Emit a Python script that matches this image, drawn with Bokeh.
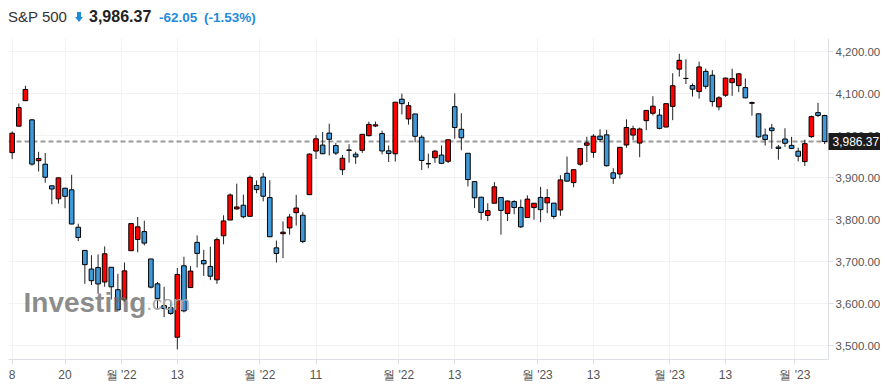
from bokeh.plotting import figure
from bokeh.layouts import column
from bokeh.models import (Range1d, FixedTicker, NumeralTickFormatter, Span, Label, Div,
                          BoxAnnotation)
from bokeh.embed import file_html
from bokeh.resources import INLINE

# ---- data (S&P 500 daily candles) ----
dates = [
    "2022-09-08", "2022-09-09", "2022-09-12", "2022-09-13", "2022-09-14", "2022-09-15", "2022-09-16",
    "2022-09-19", "2022-09-20", "2022-09-21", "2022-09-22", "2022-09-23", "2022-09-26", "2022-09-27",
    "2022-09-28", "2022-09-29", "2022-09-30",
    "2022-10-03", "2022-10-04", "2022-10-05", "2022-10-06", "2022-10-07", "2022-10-10", "2022-10-11",
    "2022-10-12", "2022-10-13", "2022-10-14", "2022-10-17", "2022-10-18", "2022-10-19", "2022-10-20",
    "2022-10-21", "2022-10-24", "2022-10-25", "2022-10-26", "2022-10-27", "2022-10-28", "2022-10-31",
    "2022-11-01", "2022-11-02", "2022-11-03", "2022-11-04", "2022-11-07", "2022-11-08", "2022-11-09",
    "2022-11-10", "2022-11-11", "2022-11-14", "2022-11-15", "2022-11-16", "2022-11-17", "2022-11-18",
    "2022-11-21", "2022-11-22", "2022-11-23", "2022-11-25", "2022-11-28", "2022-11-29", "2022-11-30",
    "2022-12-01", "2022-12-02", "2022-12-05", "2022-12-06", "2022-12-07", "2022-12-08", "2022-12-09",
    "2022-12-12", "2022-12-13", "2022-12-14", "2022-12-15", "2022-12-16", "2022-12-19", "2022-12-20",
    "2022-12-21", "2022-12-22", "2022-12-23", "2022-12-27", "2022-12-28", "2022-12-29", "2022-12-30",
    "2023-01-03", "2023-01-04", "2023-01-05", "2023-01-06", "2023-01-09", "2023-01-10", "2023-01-11",
    "2023-01-12", "2023-01-13", "2023-01-17", "2023-01-18", "2023-01-19", "2023-01-20", "2023-01-23",
    "2023-01-24", "2023-01-25", "2023-01-26", "2023-01-27", "2023-01-30", "2023-01-31",
    "2023-02-01", "2023-02-02", "2023-02-03", "2023-02-06", "2023-02-07", "2023-02-08", "2023-02-09",
    "2023-02-10", "2023-02-13", "2023-02-14", "2023-02-15", "2023-02-16", "2023-02-17", "2023-02-21",
    "2023-02-22", "2023-02-23", "2023-02-24", "2023-02-27", "2023-02-28",
    "2023-03-01", "2023-03-02", "2023-03-03", "2023-03-06", "2023-03-07",
]

opens = [
    3959.94, 4022.94, 4083.67, 4038.00, 3940.73, 3932.41, 3880.95, 3849.91, 3875.23, 3871.40,
    3782.36, 3727.14, 3682.72, 3686.44, 3651.94, 3687.01, 3633.48,
    3609.78, 3726.46, 3753.25, 3771.97, 3706.74, 3647.51, 3595.86, 3590.83, 3520.37, 3690.41,
    3638.65, 3746.26, 3703.11, 3689.05, 3657.10, 3762.01, 3799.44, 3825.97, 3834.69, 3808.26, 3881.85,
    3901.79, 3852.90, 3733.25, 3766.98, 3780.71, 3817.02, 3810.94, 3859.89, 3963.72, 3977.97,
    4006.41, 3976.82, 3919.26, 3966.39, 3956.23, 3965.51, 4000.30, 4023.34, 4005.36, 3964.19, 3957.18,
    4087.14, 4040.17, 4052.02, 3996.63, 3933.28, 3947.79, 3954.17, 3939.29, 4069.38, 4015.54,
    3958.37, 3890.91, 3853.79, 3810.47, 3839.49, 3853.26, 3815.11, 3843.34, 3829.56, 3805.45, 3829.06,
    3853.29, 3840.36, 3839.74, 3823.37, 3910.82, 3888.57, 3932.35, 3977.57, 3960.60, 3999.28,
    4002.25, 3911.84, 3909.04, 3978.14, 4001.74, 3982.71, 4036.08, 4053.72, 4049.27, 4020.85,
    4070.07, 4158.68, 4136.69, 4119.57, 4105.35, 4153.47, 4144.25, 4068.92, 4096.62, 4126.70,
    4119.50, 4114.75, 4077.39, 4052.35, 4001.83, 4018.60, 3973.24, 3992.36, 3977.19,
    3963.34, 3938.68, 3998.02, 4055.15, 4048.26,
]

highs = [
    4010.50, 4076.81, 4119.28, 4040.00, 3961.94, 3959.14, 3880.95, 3900.45, 3876.01, 3907.07,
    3790.68, 3727.14, 3715.67, 3717.53, 3736.74, 3687.01, 3671.44,
    3698.35, 3791.92, 3806.91, 3797.93, 3706.74, 3652.17, 3640.66, 3608.34, 3685.41, 3712.00,
    3689.73, 3762.79, 3728.58, 3736.00, 3757.89, 3810.74, 3862.85, 3886.15, 3859.95, 3905.42, 3893.73,
    3911.79, 3894.44, 3750.59, 3796.34, 3813.95, 3859.40, 3818.20, 3958.33, 4001.48, 4008.97,
    4028.84, 3983.09, 3954.33, 3979.89, 3962.00, 4003.46, 4033.78, 4034.02, 4012.27, 3976.77, 4080.11,
    4100.51, 4080.48, 4052.45, 4001.51, 3957.57, 3966.34, 3977.02, 3990.71, 4100.96, 4053.76,
    3958.37, 3890.91, 3854.86, 3839.49, 3889.82, 3853.26, 3845.80, 3846.65, 3848.32, 3858.19, 3839.85,
    3878.46, 3873.16, 3839.74, 3906.19, 3950.57, 3919.83, 3970.07, 3997.76, 4003.95, 4015.39,
    4014.16, 3922.94, 3972.96, 4039.31, 4023.92, 4019.55, 4061.57, 4094.38, 4063.85, 4077.16,
    4148.95, 4195.44, 4182.36, 4124.63, 4176.54, 4160.03, 4156.23, 4094.36, 4138.90, 4159.77,
    4148.11, 4136.54, 4081.51, 4052.35, 4017.37, 4028.30, 3978.25, 4018.05, 3997.50,
    3971.73, 3990.84, 4048.29, 4078.49, 4050.00,
]

lows = [
    3944.81, 4022.94, 4083.67, 3928.86, 3915.00, 3888.28, 3837.08, 3838.50, 3827.54, 3789.49,
    3749.45, 3647.47, 3644.76, 3623.76, 3640.61, 3610.40, 3584.13,
    3604.93, 3726.46, 3722.66, 3739.22, 3636.66, 3588.10, 3568.45, 3573.86, 3491.58, 3579.68,
    3638.65, 3686.53, 3666.51, 3656.44, 3647.42, 3741.65, 3799.44, 3824.07, 3803.79, 3808.26, 3863.18,
    3843.80, 3758.68, 3698.15, 3708.84, 3764.70, 3786.28, 3744.22, 3859.89, 3944.82, 3956.40,
    3953.17, 3954.34, 3906.54, 3935.98, 3933.34, 3959.39, 3998.66, 4020.76, 3955.77, 3937.65, 3938.58,
    4050.87, 4026.63, 3984.49, 3918.39, 3922.68, 3935.83, 3933.04, 3935.30, 3993.03, 3965.65,
    3879.45, 3827.91, 3800.04, 3797.01, 3839.49, 3764.49, 3797.01, 3813.22, 3780.78, 3805.45, 3800.34,
    3794.33, 3815.77, 3802.42, 3809.56, 3890.42, 3877.29, 3928.54, 3937.56, 3947.67, 3984.57,
    3926.59, 3885.54, 3897.86, 3971.64, 3989.79, 3949.06, 4013.29, 4048.70, 4015.55, 4020.44,
    4037.20, 4141.03, 4123.36, 4093.38, 4088.39, 4111.86, 4069.67, 4060.79, 4092.67, 4095.01,
    4103.98, 4089.46, 4047.95, 3995.19, 3976.90, 3969.19, 3943.08, 3973.55, 3968.98,
    3939.05, 3928.16, 3995.17, 4044.61, 3980.31,
]

closes = [
    4006.18, 4067.36, 4110.41, 3932.69, 3946.01, 3901.35, 3873.33, 3899.89, 3855.93, 3789.93,
    3757.99, 3693.23, 3655.04, 3647.29, 3719.04, 3640.47, 3585.62,
    3678.43, 3790.93, 3783.28, 3744.52, 3639.66, 3612.39, 3588.84, 3577.03, 3669.91, 3583.07,
    3677.95, 3719.98, 3695.16, 3665.78, 3752.75, 3797.34, 3859.11, 3830.60, 3807.30, 3901.06, 3871.98,
    3856.10, 3759.69, 3719.89, 3770.55, 3806.80, 3828.11, 3748.57, 3956.37, 3992.93, 3957.25,
    3991.73, 3958.79, 3946.56, 3965.34, 3949.94, 4003.58, 4027.26, 4026.12, 3963.94, 3957.63, 4080.11,
    4076.57, 4071.70, 3998.84, 3941.26, 3933.92, 3963.51, 3934.38, 3990.56, 4019.65, 3995.32,
    3895.75, 3852.36, 3817.66, 3821.62, 3878.44, 3822.39, 3844.82, 3829.25, 3783.22, 3849.28, 3839.50,
    3824.14, 3852.97, 3808.10, 3895.08, 3892.09, 3919.25, 3969.61, 3983.17, 3999.09, 3990.97,
    3928.86, 3898.85, 3972.61, 4019.81, 4016.95, 4016.22, 4060.43, 4070.56, 4017.77, 4076.60,
    4119.21, 4179.76, 4136.48, 4111.08, 4164.00, 4117.86, 4081.50, 4090.46, 4137.29, 4136.13,
    4147.60, 4090.41, 4079.09, 3997.34, 3991.05, 4012.32, 3970.04, 3982.24, 3970.15,
    3951.39, 3981.35, 4045.64, 4048.42, 3986.37,
]

x_tick_pos = [0, 8, 16.5, 25, 37.5, 46, 58.5, 67, 79.5, 88, 99.5, 108, 118.5]
x_tick_labels = ["8", "20", "월 '22", "13", "월 '22", "11", "월 '22", "13",
                 "월 '23", "13", "월 '23", "13", "월 '23"]
y_tick_pos = [3500, 3600, 3700, 3800, 3900, 4000, 4100, 4200]

instrument = "S&P 500"
last_close = 3986.37
change = -62.05
change_pct = -1.53

# ---- styling / geometry ----
UP = "#ff0000"
DOWN = "#3f98d8"
BLUE_TXT = "#1f8bdc"
FONT = "Liberation Sans"

HEADER_H = 38
FRAME_L = 8           # frame starts 8px from the left
FRAME_W = 872         # frame spans to the right edge (axis drawn inside it)
FRAME_H = 321
PX_PER_BAR = 6.605
X0 = -0.56
X1 = X0 + FRAME_W / PX_PER_BAR
AXIS_X = X0 + 820 / PX_PER_BAR     # price axis sits right after the last bar
Y0, Y1 = 3467.4, 4231.7

def px2x(px):
    return X0 + (px - FRAME_L) / PX_PER_BAR

def px2y(py):
    return Y1 - (py - HEADER_H) * (Y1 - Y0) / FRAME_H

# ---- header (HTML) ----
header_html = f"""
<div style="position:relative;width:880px;height:{HEADER_H}px;font-family:'Liberation Sans',Arial,sans-serif;white-space:nowrap;">
  <span style="position:absolute;left:8px;top:8px;line-height:18px;font-size:15px;color:#333;">{instrument.replace('&', '&amp;')}</span>
  <svg style="position:absolute;left:75px;top:12px;" width="8" height="10" viewBox="0 0 8 10">
    <path d="M2 0 H6 V5 H8 L4 10 L0 5 H2 Z" fill="{BLUE_TXT}"/>
  </svg>
  <span style="position:absolute;left:89px;top:8px;line-height:18px;font-size:16px;font-weight:bold;color:#222;">{last_close:,.2f}</span>
  <span style="position:absolute;left:159px;top:9px;line-height:18px;font-size:13.5px;font-weight:bold;color:{BLUE_TXT};">{change:.2f}</span>
  <span style="position:absolute;left:204px;top:9px;line-height:18px;font-size:13.5px;font-weight:bold;color:{BLUE_TXT};">({change_pct:.2f}%)</span>
</div>
"""
header = Div(text=header_html, width=880, height=HEADER_H, margin=0)

# ---- chart ----
p = figure(width=880, height=349, output_backend="svg", toolbar_location=None,
           x_range=Range1d(X0, X1), y_range=Range1d(Y0, Y1),
           y_axis_location="right",
           min_border_left=FRAME_L, min_border_right=0,
           min_border_top=0, min_border_bottom=28, margin=0)
p.outline_line_color = None
p.background_fill_color = "white"
p.border_fill_color = "white"

p.xgrid.ticker = FixedTicker(ticks=x_tick_pos)
p.ygrid.ticker = FixedTicker(ticks=y_tick_pos)
p.xgrid.grid_line_color = "#f2f2f2"
p.ygrid.grid_line_color = "#f2f2f2"

xa = p.xaxis[0]
xa.ticker = FixedTicker(ticks=x_tick_pos)
xa.major_label_overrides = {float(t): lab for t, lab in zip(x_tick_pos, x_tick_labels)}
xa.bounds = (X0, AXIS_X)
xa.axis_line_color = "#dcdfe6"
xa.major_tick_line_color = "#dcdfe6"
xa.major_tick_out = 5
xa.major_tick_in = 0
xa.minor_tick_line_color = None
xa.major_label_standoff = 3
xa.major_label_text_font = FONT
xa.major_label_text_font_size = "12px"
xa.major_label_text_color = "#555555"

ya = p.yaxis[0]
ya.fixed_location = AXIS_X
ya.ticker = FixedTicker(ticks=y_tick_pos)
ya.formatter = NumeralTickFormatter(format="0,0.00")
ya.axis_line_color = "#dcdfe6"
ya.major_tick_line_color = "#dcdfe6"
ya.major_tick_out = 5
ya.major_tick_in = 0
ya.minor_tick_line_color = None
ya.major_label_standoff = 2
ya.major_label_text_font = FONT
ya.major_label_text_font_size = "11.5px"
ya.major_label_text_color = "#555555"

span = Span(location=last_close, dimension="width", line_color="#9a9a9a",
            line_dash="5 3", line_width=2, level="underlay")
p.add_layout(span)

# keep grid / dashed line out of the price-scale strip
p.add_layout(BoxAnnotation(left=AXIS_X, fill_color="white", fill_alpha=1.0,
                           line_color=None, level="underlay"))

idx = list(range(len(opens)))
up_x = [i for i in idx if closes[i] >= opens[i]]
dn_x = [i for i in idx if closes[i] < opens[i]]

p.segment(x0=idx, y0=highs, x1=idx, y1=lows, line_color="#222222", line_width=1)
p.vbar(x=up_x, width=0.7,
       top=[closes[i] for i in up_x], bottom=[opens[i] for i in up_x],
       fill_color=UP, line_color="black", line_width=1)
p.vbar(x=dn_x, width=0.7,
       top=[opens[i] for i in dn_x], bottom=[closes[i] for i in dn_x],
       fill_color=DOWN, line_color="black", line_width=1)

# watermark
p.add_layout(Label(x=px2x(23), y=px2y(302), text="Investing", text_font=FONT,
                   text_font_style="bold", text_font_size="28px", text_color="#666666",
                   text_alpha=0.75, text_baseline="alphabetic", text_align="left"))
p.add_layout(Label(x=px2x(146), y=px2y(302), text=".com", text_font=FONT,
                   text_font_size="20px", text_color="#a8a8a8",
                   text_alpha=1.0, text_baseline="alphabetic", text_align="left"))

# last price box on the price scale
p.add_layout(Label(x=AXIS_X, y=last_close, text=f"{last_close:,.2f}", text_font=FONT,
                   text_font_size="12px", text_color="white",
                   background_fill_color="#1c1c1c", padding=4, level="overlay",
                   text_baseline="middle", text_align="left"))

layout = column(header, p, spacing=0)
open("out.html", "w").write(file_html(layout, INLINE))
